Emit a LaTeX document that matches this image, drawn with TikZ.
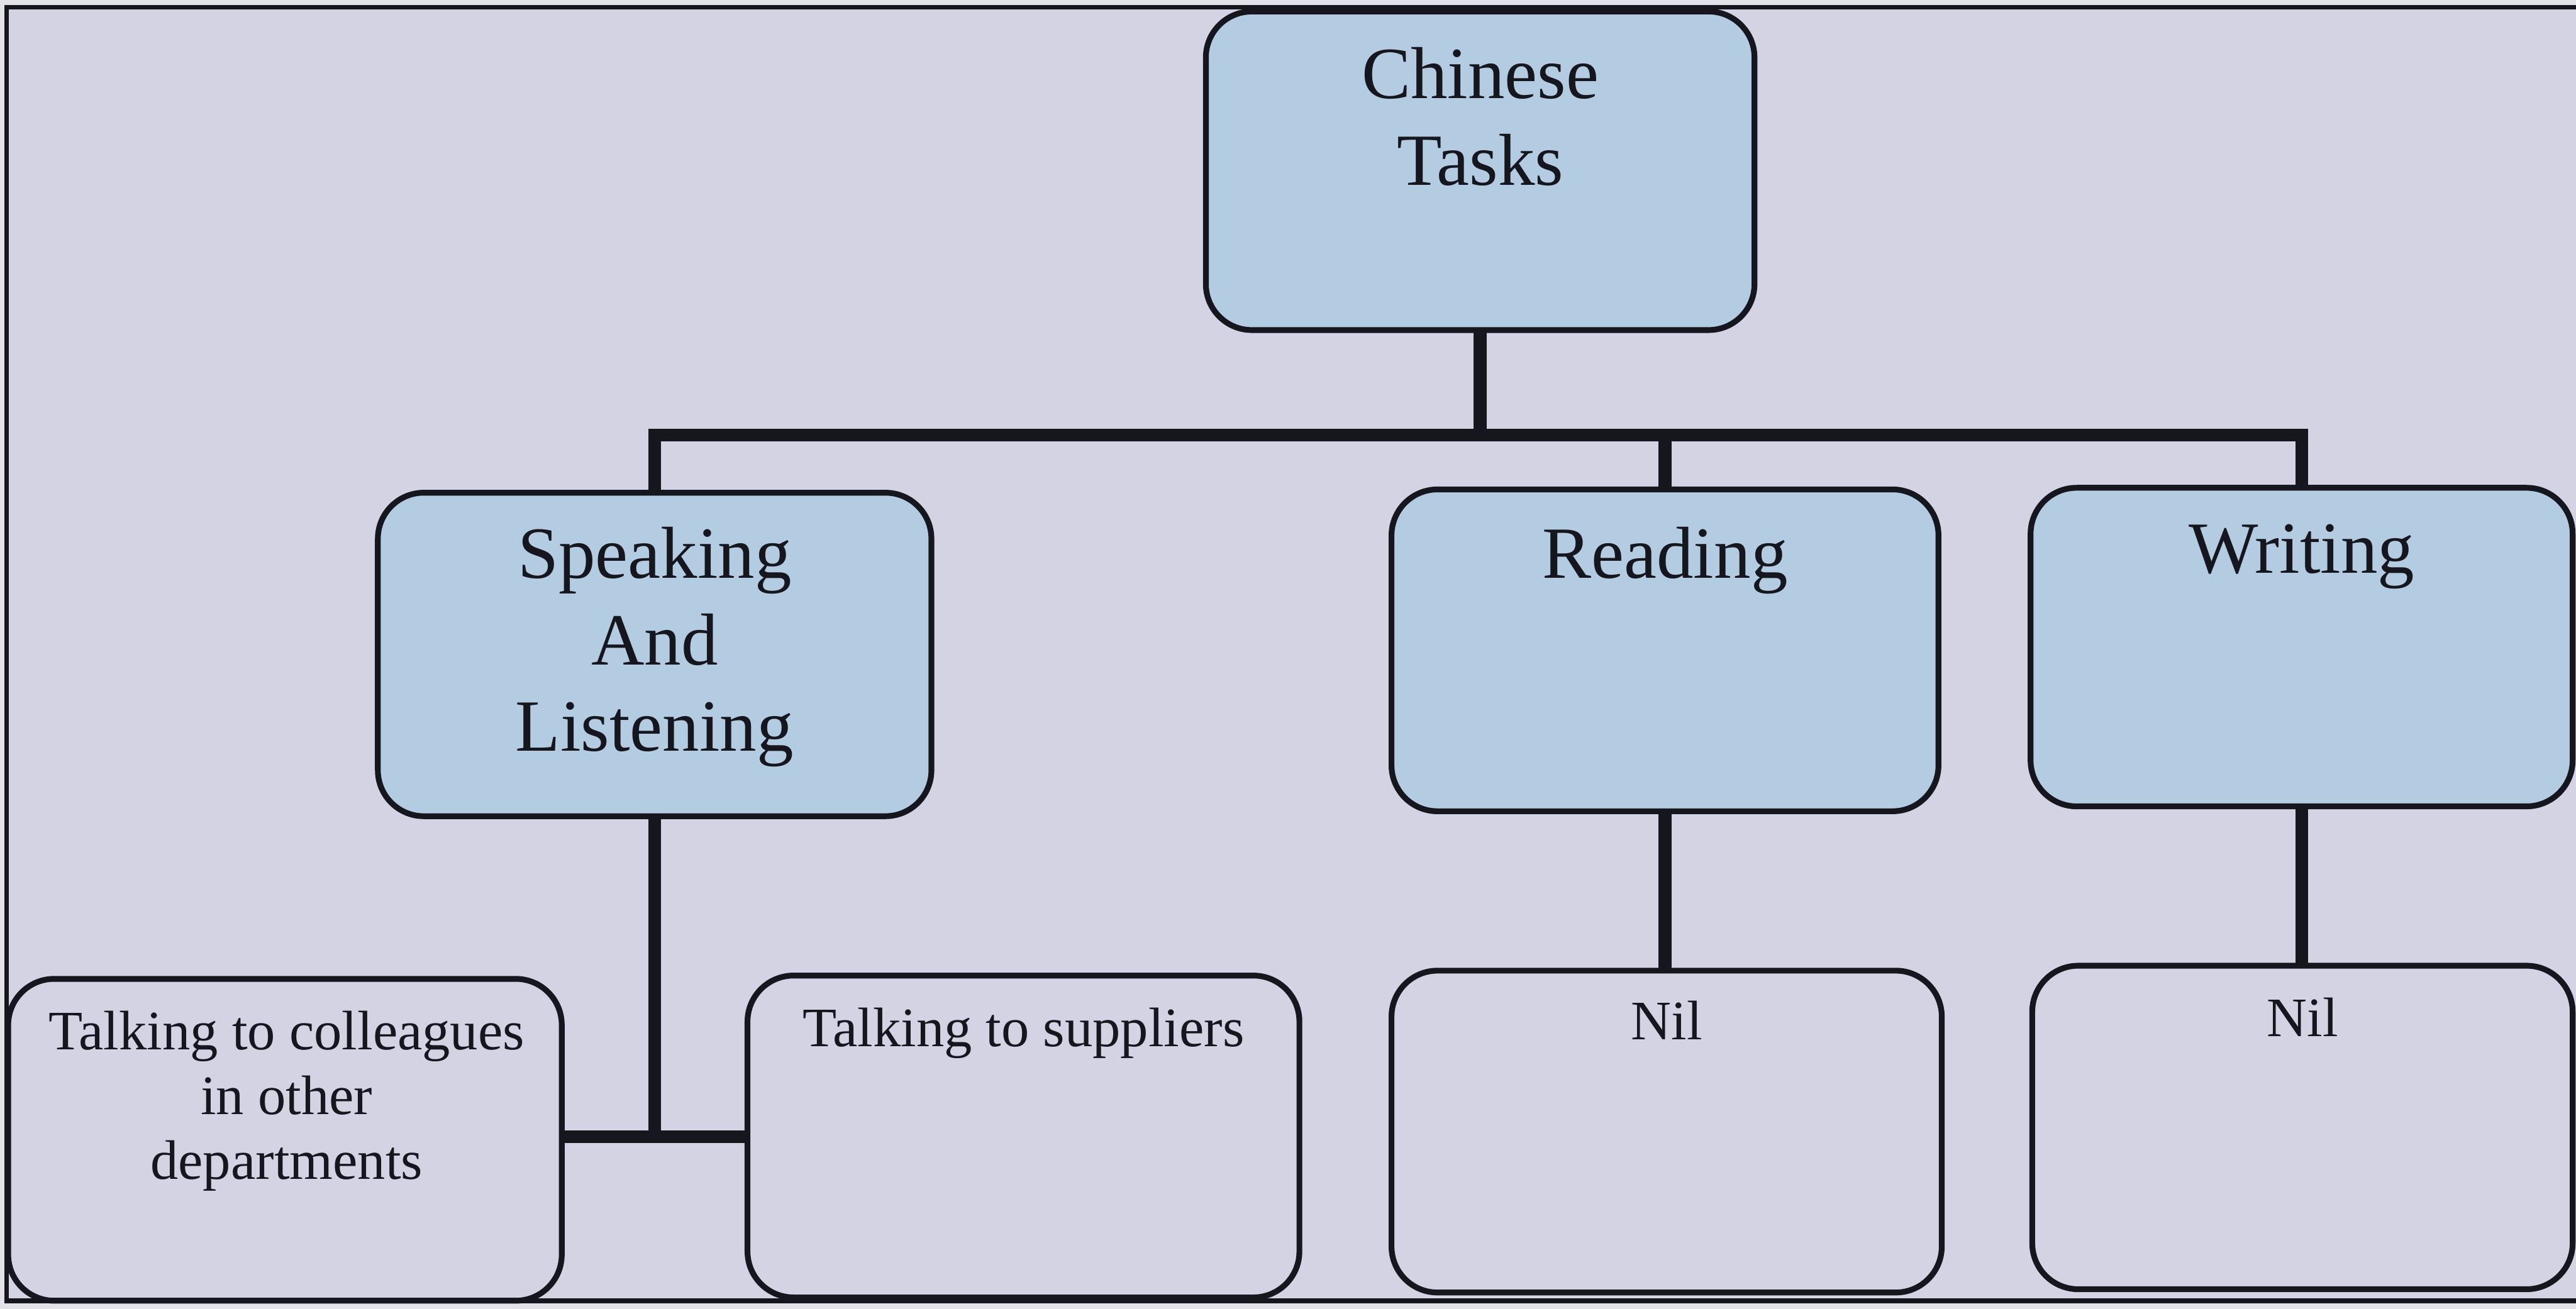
\documentclass[tikz,border=0pt]{standalone}
\usepackage{fontspec}
\setmainfont{Liberation Serif}
\usetikzlibrary{calc}
\definecolor{paper}{RGB}{211,211,228}
\definecolor{margincol}{RGB}{226,226,232}
\definecolor{taskblue}{RGB}{180,204,226}
\definecolor{ink}{RGB}{22,22,30}
\begin{document}
\begin{tikzpicture}[x=0.02cm,y=-0.02cm,
  box/.style={draw=ink, line width=2pt, rounded corners=0.56cm, inner sep=0pt, outer sep=0pt, anchor=north west},
  taskbox/.style={box, fill=taskblue},
  itembox/.style={box, fill=paper},
  link/.style={draw=ink, line width=4.4pt},
  bigtext/.style={font=\fontsize{25.5}{30}\selectfont, anchor=base, inner sep=0pt, text=ink},
  smalltext/.style={font=\fontsize{19.3}{22.5}\selectfont, anchor=base, inner sep=0pt, text=ink}]

\useasboundingbox (0,0) rectangle (1568,797);
\fill[margincol] (0,0) rectangle (1568,797);
\draw[draw=ink, line width=1.6pt, fill=paper] (4,4.5) rectangle (1580,792);

% boxes
\node[taskbox, minimum width=6.68cm, minimum height=3.88cm] (chinese) at (734,7) {};
\node[taskbox, minimum width=6.74cm, minimum height=3.94cm] (speak) at (230,300) {};
\node[taskbox, minimum width=6.66cm, minimum height=3.92cm] (read) at (847,298) {};
\node[taskbox, minimum width=6.60cm, minimum height=3.88cm] (write) at (1236,297) {};
\node[itembox, minimum width=6.74cm, minimum height=3.92cm] (colleagues) at (5,596) {};
\node[itembox, minimum width=6.72cm, minimum height=3.92cm] (suppliers) at (455,594) {};
\node[itembox, minimum width=6.70cm, minimum height=3.92cm] (nilr) at (847,591) {};
\node[itembox, minimum width=6.58cm, minimum height=3.94cm] (nilw) at (1237,588) {};

% connectors
\coordinate (bus) at (901,265);
\coordinate (join) at (398.5,692);
\draw[link] (chinese.south) -- (chinese.south |- bus);
\draw[link] (speak.north) -- (speak.north |- bus) -- (write.north |- bus) -- (write.north);
\draw[link] (read.north) -- (read.north |- bus);
\draw[link] (speak.south) -- (speak.south |- join);
\draw[link] (colleagues.east |- join) -- (suppliers.west |- join);
\draw[link] (read.south) -- (read.south |- nilr.north);
\draw[link] (write.south) -- (write.south |- nilw.north);

% labels
\node[bigtext] (chinese-t) at ($(chinese.north)+(0,53)$) {\begin{tabular}[t]{@{}c@{}}Chinese\\Tasks\end{tabular}};
\node[bigtext] (speak-t) at ($(speak.north)+(0,52)$) {\begin{tabular}[t]{@{}c@{}}Speaking\\And\\Listening\end{tabular}};
\node[bigtext] (read-t) at ($(read.north)+(0,54)$) {Reading};
\node[bigtext] (write-t) at ($(write.north)+(0,52)$) {Writing};
\node[smalltext] (colleagues-t) at ($(colleagues.north)+(1,43)$) {\begin{tabular}[t]{@{}c@{}}Talking to colleagues\\in other\\departments\end{tabular}};
\node[smalltext] (suppliers-t) at ($(suppliers.north)+(0,43)$) {Talking to suppliers};
\node[smalltext] (nilr-t) at ($(nilr.north)+(0,42)$) {Nil};
\node[smalltext] (nilw-t) at ($(nilw.north)+(0,43)$) {Nil};
\end{tikzpicture}
\end{document}
